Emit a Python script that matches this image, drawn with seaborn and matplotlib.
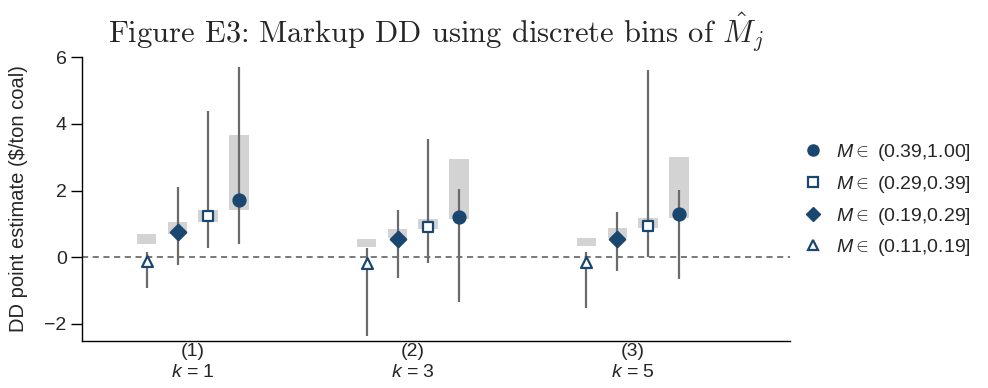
import numpy as np
import pandas as pd
import matplotlib
matplotlib.use("Agg")
import matplotlib.pyplot as plt
from matplotlib.lines import Line2D
import seaborn as sns

# ---- data ----
groups = [1, 2, 3]
group_labels = ["(1)", "(2)", "(3)"]
group_k = ["$k$ = 1", "$k$ = 3", "$k$ = 5"]
series = ["(0.11,0.19]", "(0.19,0.29]", "(0.29,0.39]", "(0.39,1.00]"]

est_tri = [-0.10, -0.18, -0.13]
lo_tri = [-0.93, -2.36, -1.53]
hi_tri = [0.15, 0.29, 0.17]
box_lo_tri = [0.41, 0.32, 0.33]
box_hi_tri = [0.69, 0.55, 0.57]

est_dia = [0.75, 0.56, 0.54]
lo_dia = [-0.23, -0.61, -0.41]
hi_dia = [2.12, 1.41, 1.36]
box_lo_dia = [0.70, 0.57, 0.57]
box_hi_dia = [1.06, 0.85, 0.87]

est_sq = [1.24, 0.92, 0.95]
lo_sq = [0.27, -0.18, 0.02]
hi_sq = [4.39, 3.55, 5.62]
box_lo_sq = [1.06, 0.86, 0.87]
box_hi_sq = [1.42, 1.15, 1.17]

est_cir = [1.71, 1.21, 1.29]
lo_cir = [0.41, -1.35, -0.66]
hi_cir = [5.69, 2.05, 2.02]
box_lo_cir = [1.43, 1.15, 1.17]
box_hi_cir = [3.65, 2.94, 3.00]

# ---- style ----
sns.set_theme(style="ticks")
plt.rcParams["font.family"] = ["Liberation Sans", "DejaVu Sans"]
plt.rcParams["mathtext.fontset"] = "custom"
plt.rcParams["mathtext.rm"] = "Liberation Sans"
plt.rcParams["mathtext.it"] = "Liberation Sans:italic"

navy = "#1a476f"
ci_col = "#6b6b6b"
box_col = "#d3d3d3"

offsets = [-0.211, -0.07, 0.07, 0.211]
specs = [
    ("^", "white", 62, est_tri, lo_tri, hi_tri, box_lo_tri, box_hi_tri),
    ("D", navy, 62, est_dia, lo_dia, hi_dia, box_lo_dia, box_hi_dia),
    ("s", "white", 55, est_sq, lo_sq, hi_sq, box_lo_sq, box_hi_sq),
    ("o", navy, 75, est_cir, lo_cir, hi_cir, box_lo_cir, box_hi_cir),
]

fig = plt.figure(figsize=(9.88, 3.88), dpi=100)
ax = fig.add_axes([0.083, 0.122, 0.7165, 0.731])

ax.axhline(0, color="#555555", lw=1.1, ls=(0, (4, 3)), zorder=1)

for (mk, fc, s, est, lo, hi, blo, bhi), off, name in zip(specs, offsets, series):
    xs = np.array(groups) + off
    ax.bar(xs, np.array(bhi) - np.array(blo), bottom=blo, width=0.09,
           color=box_col, edgecolor="none", zorder=2)
    ax.vlines(xs, lo, hi, color=ci_col, lw=1.6, zorder=3)
    df = pd.DataFrame({"x": xs, "y": est})
    sns.scatterplot(data=df, x="x", y="y", marker=mk, s=s, color=navy,
                    facecolor=fc, edgecolor=navy, linewidth=1.6,
                    zorder=4, ax=ax, legend=False)

ax.set_xlim(0.4955, 3.714)
ax.set_ylim(-2.5, 6)
ax.set_yticks([-2, 0, 2, 4, 6])
ax.set_yticklabels(["\u22122", "0", "2", "4", "6"])
ax.set_xticks(groups)
ax.set_xticklabels(group_labels)
ax.tick_params(axis="x", length=0, pad=2, labelsize=14)
ax.tick_params(axis="y", length=8, width=1, labelsize=14, color="black", pad=3)
for g, k in zip(groups, group_k):
    ax.text(g, -0.082, k, transform=ax.get_xaxis_transform(), ha="center",
            va="top", fontsize=14)
ax.set_xlabel("")
ax.set_ylabel("DD point estimate ($/ton coal)", fontsize=14.5, labelpad=12)
for sp in ["top", "right"]:
    ax.spines[sp].set_visible(False)
for sp in ["left", "bottom"]:
    ax.spines[sp].set_color("black")
    ax.spines[sp].set_linewidth(1.0)

ax.set_title(r"Figure E3: Markup DD using discrete bins of $\hat{M}_j$",
             fontsize=22, family="cmr10", math_fontfamily="cm", pad=10)

handles = [
    Line2D([], [], ls="none", marker="o", ms=8, mfc=navy, mec=navy),
    Line2D([], [], ls="none", marker="s", ms=7, mfc="white", mec=navy, mew=1.6),
    Line2D([], [], ls="none", marker="D", ms=7.5, mfc=navy, mec=navy),
    Line2D([], [], ls="none", marker="^", ms=7.5, mfc="white", mec=navy, mew=1.6),
]
labels = [r"$M \in$ " + s for s in series[::-1]]
fig.legend(handles, labels, loc="center left", bbox_to_anchor=(0.793, 0.484),
           frameon=False, fontsize=14, labelspacing=0.55, handletextpad=0.6,
           handlelength=1.2)

fig.savefig("out.png", dpi=100)
